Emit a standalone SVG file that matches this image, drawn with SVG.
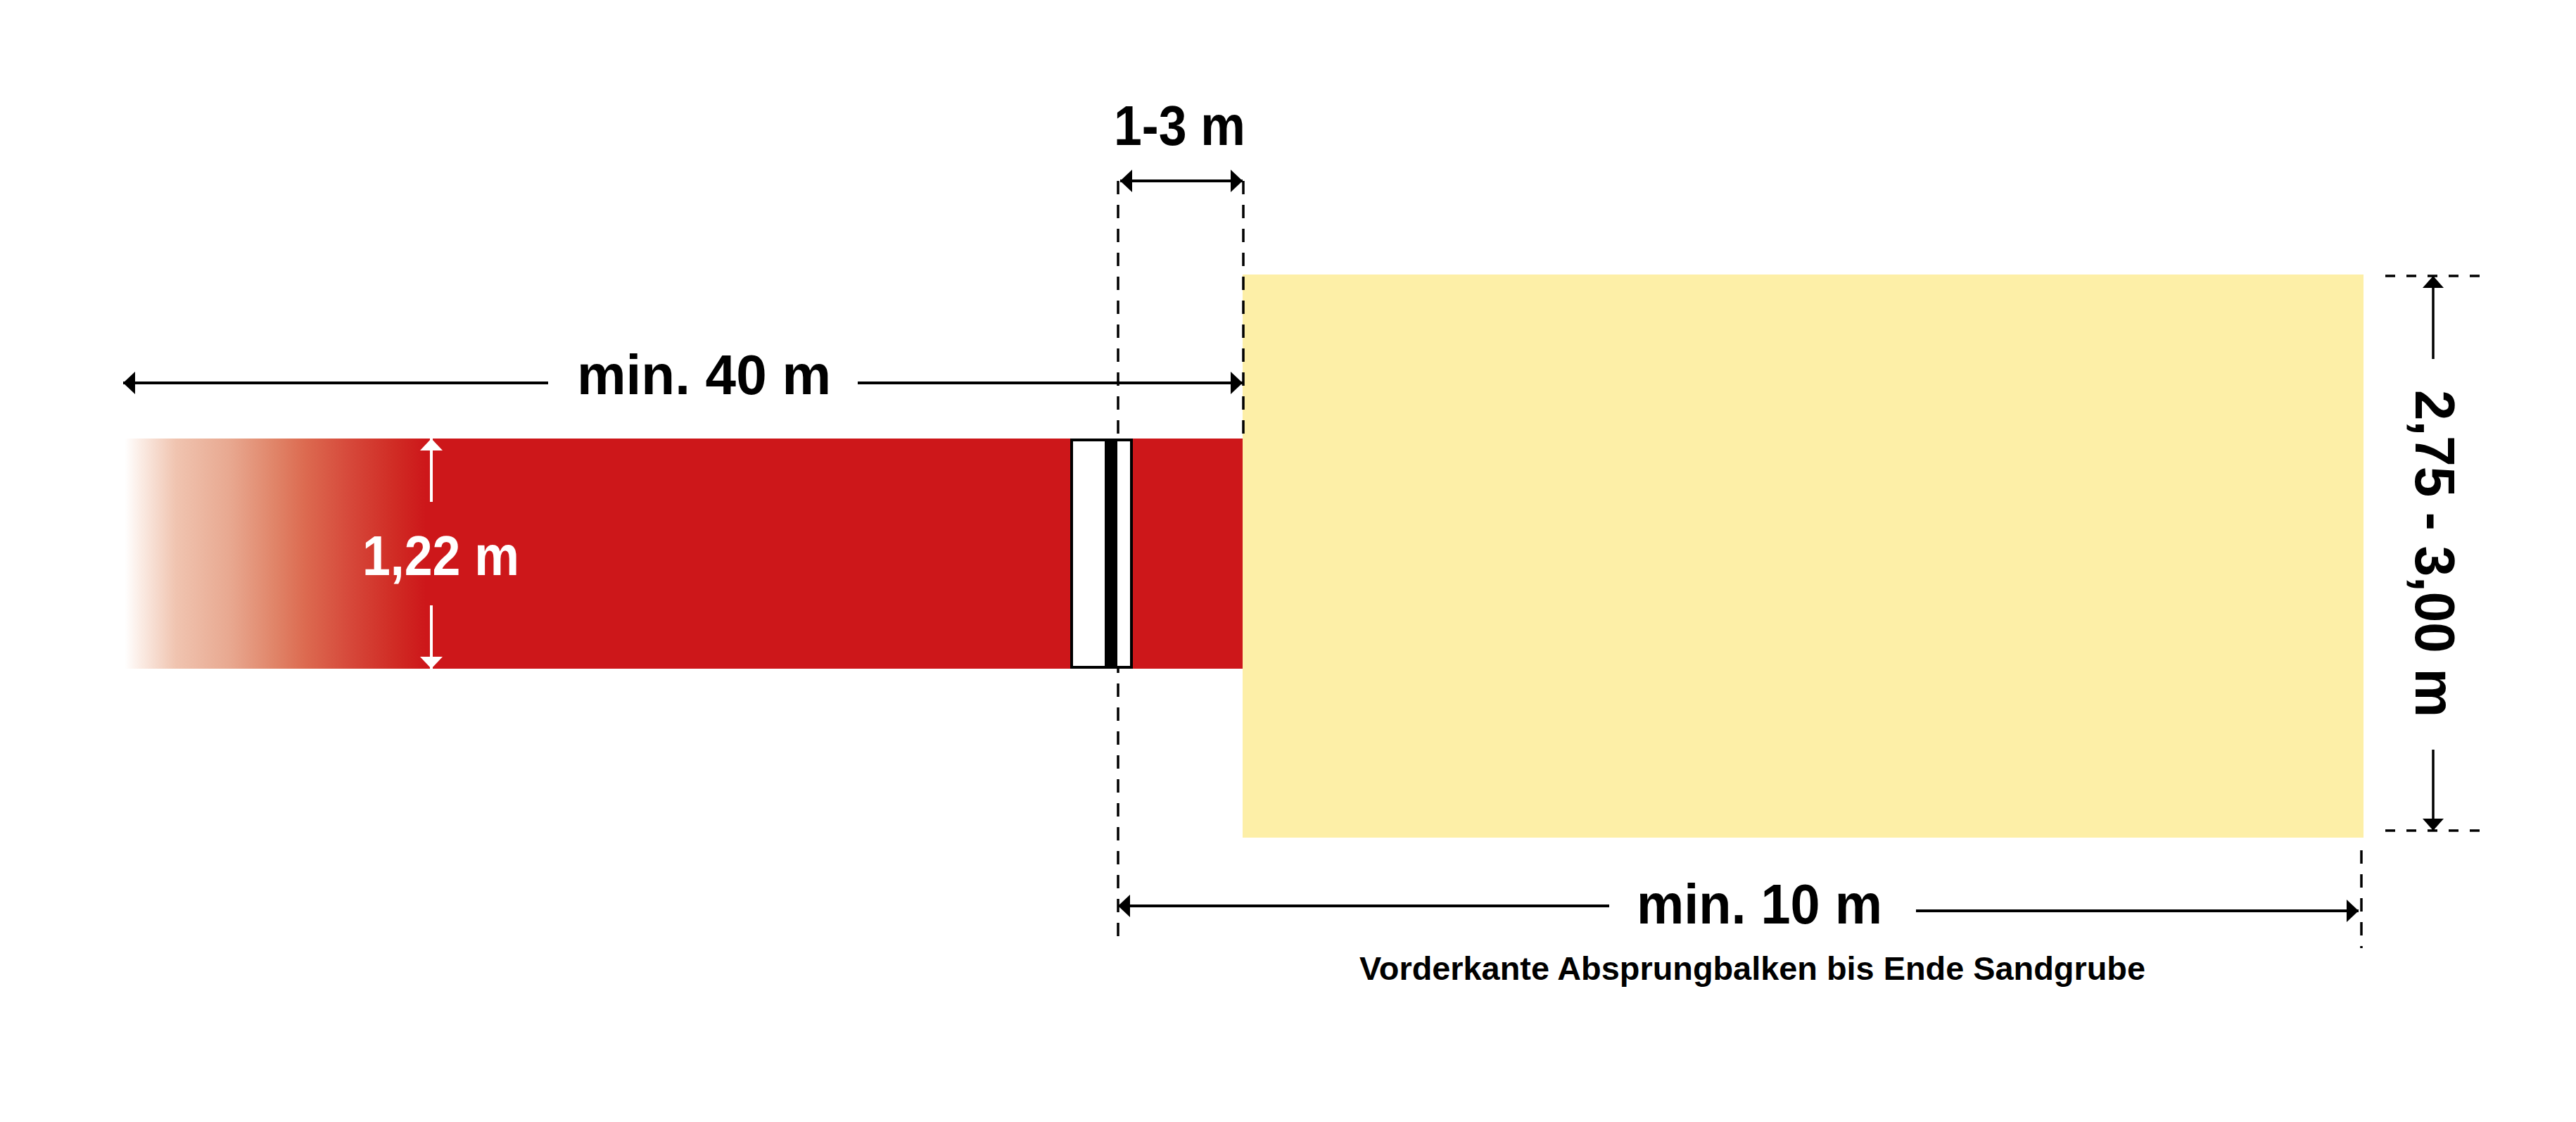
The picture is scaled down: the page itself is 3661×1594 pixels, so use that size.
<svg xmlns="http://www.w3.org/2000/svg" width="3661" height="1594" viewBox="0 0 3661 1594">
<style>
.lbl{font-family:"Liberation Sans","DejaVu Sans",sans-serif;font-weight:bold;font-size:80px;fill:#000}
.sub{font-family:"Liberation Sans","DejaVu Sans",sans-serif;font-weight:bold;font-size:47px;fill:#000}
.dim{stroke:#000;stroke-width:4;fill:none}
.dash{stroke:#000;stroke-width:3.5;fill:none;stroke-dasharray:19 15}
.hdash{stroke:#000;stroke-width:3.5;fill:none;stroke-dasharray:14 16}
.wdim{stroke:#fff;stroke-width:4;fill:none}
</style>
<defs>
<linearGradient id="fade" gradientUnits="userSpaceOnUse" x1="177" y1="0" x2="605" y2="0">
<stop offset="0" stop-color="#FFFFFF"/>
<stop offset="0.05" stop-color="#FBEDE6"/>
<stop offset="0.17" stop-color="#F0C4B0"/>
<stop offset="0.35" stop-color="#E8A890"/>
<stop offset="0.5" stop-color="#E08468"/>
<stop offset="0.6" stop-color="#DC6A50"/>
<stop offset="0.75" stop-color="#D6483A"/>
<stop offset="0.9" stop-color="#D02B24"/>
<stop offset="1" stop-color="#CD171A"/>
</linearGradient>
<marker id="ah" markerUnits="userSpaceOnUse" markerWidth="18" markerHeight="34" refX="17" refY="16" orient="auto-start-reverse" viewBox="0 0 18 32">
<path d="M0,0 L17,16 L0,32 z" fill="#000"/>
</marker>
<marker id="ahs" markerUnits="userSpaceOnUse" markerWidth="18" markerHeight="32" refX="17" refY="15" orient="auto-start-reverse" viewBox="0 0 18 30">
<path d="M0,0 L17,15 L0,30 z" fill="#000"/>
</marker>
<marker id="ahw" markerUnits="userSpaceOnUse" markerWidth="18" markerHeight="34" refX="17" refY="16" orient="auto-start-reverse" viewBox="0 0 18 32">
<path d="M0,0 L17,16 L0,32 z" fill="#fff"/>
</marker>
</defs>
<rect width="3661" height="1594" fill="#fff"/>
<g id="runway">
<rect x="177" y="623" width="1590" height="327" fill="url(#fade)"/>
</g>
<g id="sandpit">
<rect x="1766" y="390" width="1593" height="800" fill="#FDEFA7"/>
</g>
<g id="connectors">
<line class="dash" x1="1589" y1="257" x2="1589" y2="1337"/>
<line class="dash" x1="1767" y1="257" x2="1767" y2="623"/>
<line class="dash" x1="3356" y1="1208" x2="3356" y2="1347"/>
<line class="hdash" x1="3390" y1="392" x2="3528" y2="392"/>
<line class="hdash" x1="3390" y1="1180" x2="3528" y2="1180"/>
<line class="dim" x1="1592" y1="257" x2="1766" y2="257" marker-start="url(#ah)" marker-end="url(#ah)"/>
<line class="dim" x1="779" y1="544" x2="175" y2="544" marker-end="url(#ah)"/>
<line class="dim" x1="1219" y1="544" x2="1766" y2="544" marker-end="url(#ah)"/>
<line class="dim" x1="2287" y1="1287" x2="1589" y2="1287" marker-end="url(#ah)"/>
<line class="dim" x1="2723" y1="1294" x2="3352" y2="1294" marker-end="url(#ah)"/>
<line class="dim" style="stroke-width:3.5" x1="3458" y1="510" x2="3458" y2="392" marker-end="url(#ahs)"/>
<line class="dim" style="stroke-width:3.5" x1="3458" y1="1065" x2="3458" y2="1180" marker-end="url(#ahs)"/>
<line class="wdim" x1="613" y1="713" x2="613" y2="623" marker-end="url(#ahw)"/>
<line class="wdim" x1="613" y1="860" x2="613" y2="950" marker-end="url(#ahw)"/>
</g>
<g id="board">
<rect x="1523" y="625" width="85" height="323" fill="#fff" stroke="#000" stroke-width="4"/>
<rect x="1570" y="625" width="18" height="323" fill="#000"/>
</g>
<g id="labels">
<text class="lbl" x="1583" y="206" textLength="187" lengthAdjust="spacingAndGlyphs">1-3 m</text>
<text class="lbl" x="820" y="560" textLength="361" lengthAdjust="spacingAndGlyphs">min. 40 m</text>
<text class="lbl" x="515" y="817" textLength="223" lengthAdjust="spacingAndGlyphs" style="fill:#fff">1,22 m</text>
<text class="lbl" x="2326" y="1312" textLength="349" lengthAdjust="spacingAndGlyphs">min. 10 m</text>
<text class="sub" x="1932" y="1392" textLength="1117" lengthAdjust="spacingAndGlyphs">Vorderkante Absprungbalken bis Ende Sandgrube</text>
<text class="lbl" transform="translate(3433,554) rotate(90)" x="0" y="0" textLength="465" lengthAdjust="spacingAndGlyphs">2,75 - 3,00 m</text>
</g>
</svg>
